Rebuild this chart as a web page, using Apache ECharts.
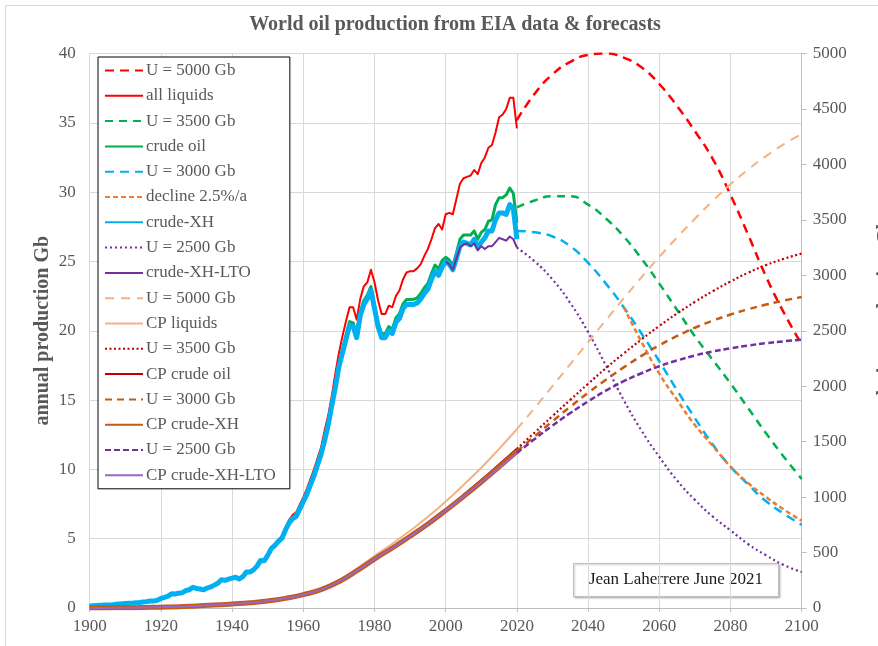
<!DOCTYPE html>
<html>
<head>
<meta charset="utf-8">
<script src="https://cdn.jsdelivr.net/npm/echarts@6/dist/echarts.min.js"></script>
<style>
  html, body { margin: 0; padding: 0; background: #ffffff; }
  #chart { width: 878px; height: 646px; }
</style>
</head>
<body>
<div id="chart"></div>
<script>
// ---------- annual production, Gb/yr (history, one value per year from 1900) ----------
const HIST_START = 1900;

const CRUDE_XH = [
  0.15, 0.17, 0.18, 0.19, 0.22, 0.22, 0.21, 0.26, 0.29, 0.30,
  0.33, 0.34, 0.35, 0.38, 0.40, 0.43, 0.46, 0.50, 0.50, 0.56,
  0.69, 0.77, 0.86, 1.02, 1.01, 1.07, 1.10, 1.26, 1.32, 1.49,
  1.41, 1.37, 1.31, 1.44, 1.52, 1.65, 1.79, 2.04, 1.99, 2.08,
  2.15, 2.22, 2.09, 2.26, 2.59, 2.59, 2.75, 3.02, 3.43, 3.40,
  3.80, 4.28, 4.50, 4.80, 5.02, 5.63, 6.13, 6.44, 6.61, 7.13,
  7.67, 8.19, 8.88, 9.54, 10.31, 11.10, 12.10, 13.20, 14.60, 15.90,
  17.40, 18.40, 19.40, 20.40, 20.30, 19.50, 21.10, 21.90, 22.30, 22.90,
  21.60, 20.30, 19.50, 19.50, 20.00, 19.80, 20.60, 20.90, 21.60, 21.90,
  21.90, 21.90, 22.00, 22.30, 22.70, 23.00, 23.70, 24.30, 24.00, 24.60,
  25.00, 24.80, 24.40, 25.20, 26.10, 26.40, 26.30, 26.20, 26.60, 26.00,
  26.40, 26.70, 27.20, 27.20, 28.00, 28.50, 28.50, 28.40, 29.10, 28.80,
  26.60
];

const CRUDE_OIL = [
  0.15, 0.17, 0.18, 0.19, 0.22, 0.22, 0.21, 0.26, 0.29, 0.30,
  0.33, 0.34, 0.35, 0.38, 0.40, 0.43, 0.46, 0.50, 0.50, 0.56,
  0.69, 0.77, 0.86, 1.02, 1.01, 1.07, 1.10, 1.26, 1.32, 1.49,
  1.41, 1.37, 1.31, 1.44, 1.52, 1.65, 1.79, 2.04, 1.99, 2.08,
  2.15, 2.22, 2.09, 2.26, 2.59, 2.60, 2.76, 3.04, 3.45, 3.42,
  3.83, 4.32, 4.55, 4.86, 5.09, 5.71, 6.22, 6.54, 6.72, 7.25,
  7.80, 8.33, 9.03, 9.70, 10.48, 11.28, 12.29, 13.40, 14.81, 16.12,
  17.63, 18.64, 19.65, 20.66, 20.56, 19.76, 21.37, 22.18, 22.58, 23.19,
  21.88, 20.58, 19.78, 19.79, 20.30, 20.11, 20.92, 21.23, 21.94, 22.25,
  22.26, 22.27, 22.38, 22.69, 23.10, 23.41, 24.13, 24.74, 24.45, 25.06,
  25.30, 25.10, 24.70, 25.60, 26.60, 26.90, 26.90, 26.90, 27.20, 26.60,
  27.10, 27.30, 27.90, 28.00, 29.10, 29.60, 29.60, 29.80, 30.30, 29.90,
  27.80
];

const ALL_LIQUIDS = [
  0.15, 0.17, 0.18, 0.19, 0.22, 0.22, 0.21, 0.26, 0.29, 0.30,
  0.33, 0.34, 0.35, 0.38, 0.40, 0.43, 0.46, 0.50, 0.50, 0.56,
  0.69, 0.77, 0.86, 1.02, 1.01, 1.07, 1.10, 1.26, 1.32, 1.50,
  1.41, 1.37, 1.31, 1.44, 1.52, 1.65, 1.79, 2.04, 1.99, 2.08,
  2.15, 2.22, 2.09, 2.26, 2.60, 2.60, 2.77, 3.05, 3.47, 3.45,
  3.90, 4.40, 4.62, 4.95, 5.20, 5.82, 6.35, 6.70, 6.90, 7.45,
  8.00, 8.60, 9.30, 10.00, 10.80, 11.60, 12.80, 13.90, 15.30, 16.90,
  18.40, 19.60, 20.70, 21.70, 21.70, 20.80, 22.30, 23.20, 23.50, 24.40,
  23.50, 22.20, 21.20, 21.20, 21.80, 21.70, 22.50, 22.90, 23.70, 24.20,
  24.30, 24.30, 24.50, 24.80, 25.40, 25.90, 26.60, 27.40, 27.70, 27.30,
  28.40, 28.50, 28.40, 29.50, 30.60, 31.00, 31.10, 31.20, 31.60, 31.30,
  32.10, 32.50, 33.20, 33.40, 34.30, 35.40, 35.60, 36.00, 36.80, 36.80,
  34.60
];

// crude-XH without light tight oil, yearly from 2000
const LTO_START = 2000;
const CRUDE_XH_LTO = [
  25.00, 24.80, 24.40, 25.20, 26.00, 26.20, 26.30, 26.10, 26.30, 25.80,
  26.10, 25.90, 26.10, 26.10, 26.40, 26.70, 26.60, 26.50, 26.80, 26.60,
  26.00
];

// ---------- annual production forecasts, Gb/yr ----------
const FORECAST_YEARS = [2020, 2025, 2030, 2035, 2040, 2045, 2050, 2055, 2060,
                        2065, 2070, 2075, 2080, 2085, 2090, 2095, 2100];
const U5000_ANNUAL = [35.2, 37.1, 38.5, 39.4, 39.9, 40.0, 39.7, 39.0, 37.8,
                      36.2, 34.4, 32.4, 29.8, 26.9, 23.9, 21.3, 19.0];
const U3500_ANNUAL = [28.9, 29.4, 29.7, 29.7, 29.1, 28.1, 26.8, 25.2, 23.4,
                      21.5, 19.6, 17.9, 16.2, 14.4, 12.6, 10.9, 9.3];
const U3000_ANNUAL = [27.2, 27.1, 26.8, 26.1, 24.9, 23.4, 21.7, 19.8, 17.8,
                      15.7, 13.7, 11.8, 10.2, 8.9, 7.7, 6.8, 6.0];
const U2500_ANNUAL = [26.0, 25.0, 23.7, 22.0, 19.9, 17.5, 15.0, 12.8, 10.9,
                      9.2, 7.8, 6.6, 5.6, 4.6, 3.8, 3.1, 2.6];

const DECLINE_YEARS = [2050, 2055, 2060, 2065, 2070, 2075, 2080, 2085, 2090, 2095, 2100];
const DECLINE_ANNUAL = [21.7, 19.2, 16.9, 15.0, 13.2, 11.7, 10.2, 9.0, 8.0, 7.1, 6.3];

// ---------- cumulative production, Gb ----------
const CUM_YEARS = [1900, 1905, 1910, 1915, 1920, 1925, 1930, 1935, 1940, 1945, 1950, 1955,
                   1960, 1965, 1970, 1975, 1980, 1985, 1990, 1995, 2000, 2005, 2010, 2015, 2020];
const CP_LIQUIDS = [0, 1, 2.5, 4.5, 7.5, 12, 19, 26, 36, 47, 64, 89,
                    125, 175, 252, 354, 469, 579, 697, 822, 960, 1110, 1265, 1435, 1612];
const CP_CRUDE_OIL = [0, 1, 2.5, 4.5, 7.5, 12, 19, 26, 36, 47, 63, 87,
                      121, 168, 240, 338, 446, 547, 654, 767, 889, 1018, 1152, 1292, 1435];
const CP_CRUDE_XH = [0, 1, 2.5, 4.5, 7.5, 12, 19, 26, 36, 47, 63, 87,
                     120, 166, 237, 334, 441, 541, 647, 758, 878, 1004, 1135, 1272, 1413];
const CP_CRUDE_XH_LTO = [0, 1, 2.5, 4.5, 7.5, 12, 19, 26, 36, 47, 63, 87,
                         120, 166, 237, 334, 441, 541, 647, 758, 878, 1004, 1134, 1265, 1398];

const U5000_CUM = [1612, 1805, 2000, 2200, 2397, 2596, 2791, 2982, 3166,
                   3342, 3510, 3670, 3820, 3955, 4075, 4182, 4275];
const U3500_CUM = [1435, 1583, 1731, 1877, 2022, 2163, 2295, 2422, 2543,
                   2656, 2760, 2856, 2944, 3024, 3092, 3149, 3196];
const U3000_CUM = [1413, 1549, 1684, 1815, 1940, 2058, 2170, 2274, 2369,
                   2453, 2527, 2591, 2646, 2694, 2736, 2772, 2805];
const U2500_CUM = [1398, 1524, 1645, 1758, 1863, 1960, 2045, 2117, 2180,
                   2232, 2277, 2313, 2342, 2367, 2388, 2405, 2420];

// ---------- helpers ----------
const yearly = (start, values) => values.map((v, i) => [start + i, v]);
const paired = (years, values) => values.map((v, i) => [years[i], v]);

const SERIF = 'Liberation Serif';
const GREY_TEXT = '#595959';
const ZW = '\u200b'; // keeps the second set of "U = ..." entries distinct in the legend
const plain = v => String(v);

function line(name, data, color, width, dash, axis, smooth) {
  return {
    name: name,
    type: 'line',
    yAxisIndex: axis,
    data: data,
    symbol: 'none',
    showSymbol: false,
    smooth: smooth ? 0.5 : false,
    lineStyle: { color: color, width: width, type: dash || 'solid', cap: 'butt', join: 'round' },
    itemStyle: { color: color },
    emphasis: { disabled: true },
    z: 2
  };
}

const series = [
  line('U = 5000 Gb', paired(FORECAST_YEARS, U5000_ANNUAL), '#FF0000', 2.5, [9, 6], 0, true),
  line('all liquids', yearly(HIST_START, ALL_LIQUIDS), '#FF0000', 2, null, 0, false),
  line('U = 3500 Gb', paired(FORECAST_YEARS, U3500_ANNUAL), '#00B050', 2.5, [8, 6], 0, true),
  line('crude oil', yearly(HIST_START, CRUDE_OIL), '#00B050', 3, null, 0, false),
  line('U = 3000 Gb', paired(FORECAST_YEARS, U3000_ANNUAL), '#00B0F0', 2.5, [9, 6], 0, true),
  line('decline 2.5%/a', paired(DECLINE_YEARS, DECLINE_ANNUAL), '#ED7D31', 2.5, [5, 3], 0, true),
  line('crude-XH', yearly(HIST_START, CRUDE_XH), '#00B0F0', 5, null, 0, false),
  line('U = 2500 Gb', paired(FORECAST_YEARS, U2500_ANNUAL), '#7030A0', 2.2, [2, 3], 0, true),
  line('crude-XH-LTO', yearly(LTO_START, CRUDE_XH_LTO), '#7030A0', 2, null, 0, false),
  line('U = 5000 Gb' + ZW, paired(FORECAST_YEARS, U5000_CUM), '#F4B183', 2, [9, 7], 1, true),
  line('CP liquids', paired(CUM_YEARS, CP_LIQUIDS), '#F4B183', 2, null, 1, true),
  line('U = 3500 Gb' + ZW, paired(FORECAST_YEARS, U3500_CUM), '#C00000', 2.2, [2, 2.5], 1, true),
  line('CP crude oil', paired(CUM_YEARS, CP_CRUDE_OIL), '#C00000', 2.5, null, 1, true),
  line('U = 3000 Gb' + ZW, paired(FORECAST_YEARS, U3000_CUM), '#C55A11', 2.5, [7, 5], 1, true),
  line('CP crude-XH', paired(CUM_YEARS, CP_CRUDE_XH), '#C55A11', 5, null, 1, true),
  line('U = 2500 Gb' + ZW, paired(FORECAST_YEARS, U2500_CUM), '#7030A0', 2.5, [6, 3], 1, true),
  line('CP crude-XH-LTO', paired(CUM_YEARS, CP_CRUDE_XH_LTO), '#9966CC', 2, null, 1, true)
];

const gridColor = '#D9D9D9';

const option = {
  animation: false,
  backgroundColor: '#ffffff',
  title: {
    text: 'World oil production from EIA data & forecasts',
    left: 450,
    top: 10,
    textAlign: 'center',
    textStyle: { fontFamily: SERIF, fontSize: 20, fontWeight: 'bold', color: GREY_TEXT }
  },
  grid: { left: 89.7, right: 76.3, top: 53.5, bottom: 38, containLabel: false, outerBoundsMode: 'none' },
  legend: {
    orient: 'vertical',
    left: 98,
    top: 57,
    padding: [5, 14, 5, 6],
    itemWidth: 38,
    itemHeight: 14,
    itemGap: 8.3,
    backgroundColor: '#ffffff',
    borderColor: '#000000',
    borderWidth: 1,
    borderRadius: 0,
    selectedMode: false,
    itemStyle: { opacity: 0 },
    textStyle: { fontFamily: SERIF, fontSize: 17, color: GREY_TEXT, lineHeight: 17, padding: [0, 0, 0, -2] },
    data: series.map(s => s.name)
  },
  xAxis: {
    type: 'value',
    min: 1900,
    max: 2100,
    interval: 20,
    axisLine: { show: true, lineStyle: { color: '#BFBFBF', width: 1 } },
    axisTick: { show: true, length: 4, lineStyle: { color: '#BFBFBF' } },
    splitLine: { show: true, lineStyle: { color: gridColor, width: 1 } },
    axisLabel: { fontFamily: SERIF, fontSize: 17, color: GREY_TEXT, margin: 10, formatter: plain }
  },
  yAxis: [
    {
      type: 'value',
      min: 0,
      max: 40,
      interval: 5,
      name: 'annual production Gb',
      nameLocation: 'middle',
      nameRotate: 90,
      nameGap: 37,
      nameMoveOverlap: false,
      nameTextStyle: { fontFamily: SERIF, fontSize: 20, fontWeight: 'bold', color: GREY_TEXT },
      axisLine: { show: false },
      axisTick: { show: false },
      splitLine: { show: true, lineStyle: { color: gridColor, width: 1 } },
      axisLabel: { fontFamily: SERIF, fontSize: 17, color: GREY_TEXT, margin: 14, formatter: plain }
    },
    {
      type: 'value',
      position: 'right',
      min: 0,
      max: 5000,
      interval: 500,
      name: 'cumulative production Gb',
      nameLocation: 'middle',
      nameRotate: 90,
      nameGap: 74,
      nameMoveOverlap: false,
      nameTextStyle: { fontFamily: SERIF, fontSize: 20, fontWeight: 'bold', color: GREY_TEXT },
      axisLine: { show: true, lineStyle: { color: '#BFBFBF', width: 1 } },
      axisTick: { show: true, length: 5, lineStyle: { color: '#BFBFBF' } },
      splitLine: { show: false },
      axisLabel: { fontFamily: SERIF, fontSize: 17, color: GREY_TEXT, margin: 11, formatter: plain }
    }
  ],
  graphic: [
    {
      type: 'rect',
      silent: true,
      z: -10,
      shape: { x: 5.5, y: 5.5, width: 880, height: 650 },
      style: { fill: 'none', stroke: '#D9D9D9', lineWidth: 1 }
    },
    {
      type: 'group',
      left: 573,
      top: 563,
      z: 100,
      children: [
        {
          type: 'rect',
          shape: { x: 0, y: 0, width: 205, height: 33 },
          style: {
            fill: '#ffffff', stroke: '#BFBFBF', lineWidth: 1,
            shadowBlur: 2, shadowOffsetX: 1, shadowOffsetY: 1, shadowColor: 'rgba(0,0,0,0.25)'
          }
        },
        {
          type: 'text',
          x: 102.5,
          y: 16.5,
          style: {
            text: 'Jean Laherrere June 2021',
            fontFamily: SERIF,
            fontSize: 17,
            fill: '#1a1a1a',
            align: 'center',
            verticalAlign: 'middle'
          }
        }
      ]
    }
  ],
  series: series
};

const chart = echarts.init(document.getElementById('chart'), null, { renderer: 'canvas' });
chart.setOption(option);
</script>
</body>
</html>
